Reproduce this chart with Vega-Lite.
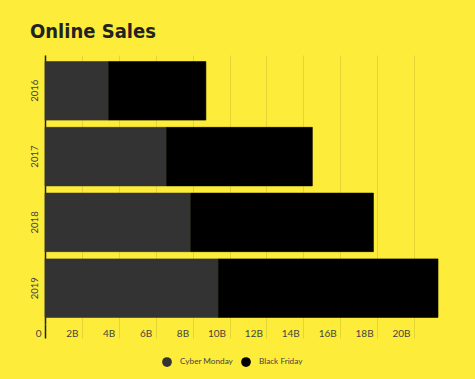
{
  "$schema": "https://vega.github.io/schema/vega-lite/v6.json",
  "width": 393,
  "height": 269,
  "autosize": "none",
  "padding": {"left": 45, "top": 55, "right": 37, "bottom": 55},
  "background": "#fdec3a",
  "title": {
    "text": "Online Sales",
    "anchor": "start",
    "frame": "group",
    "font": "DejaVu Sans Condensed",
    "fontSize": 20,
    "fontWeight": "bold",
    "color": "#222222",
    "dx": -15,
    "offset": 13
  },
  "config": {
    "view": {"stroke": null},
    "font": "Lato"
  },
  "data": {
    "values": [
      {"year": "2016", "type": "Cyber Monday", "ord": 1, "value": 3.45},
      {"year": "2016", "type": "Black Friday", "ord": 2, "value": 5.27},
      {"year": "2017", "type": "Cyber Monday", "ord": 1, "value": 6.59},
      {"year": "2017", "type": "Black Friday", "ord": 2, "value": 7.9},
      {"year": "2018", "type": "Cyber Monday", "ord": 1, "value": 7.9},
      {"year": "2018", "type": "Black Friday", "ord": 2, "value": 9.9},
      {"year": "2019", "type": "Cyber Monday", "ord": 1, "value": 9.4},
      {"year": "2019", "type": "Black Friday", "ord": 2, "value": 11.9}
    ]
  },
  "mark": {"type": "bar", "strokeWidth": 0.6},
  "encoding": {
    "y": {
      "field": "year",
      "type": "nominal",
      "sort": "ascending",
      "scale": {"paddingInner": 0.11, "paddingOuter": 0.1},
      "axis": {
        "title": null,
        "ticks": false,
        "domainColor": "#222222",
        "domainWidth": 1.5,
        "labelAngle": 270,
        "labelAlign": "center",
        "labelBaseline": "bottom",
        "labelPadding": 6,
        "labelFontSize": 9.5,
        "labelColor": "#444444",
        "grid": false
      }
    },
    "x": {
      "field": "value",
      "type": "quantitative",
      "stack": "zero",
      "scale": {"domain": [0, 21.3], "nice": false},
      "axis": {
        "title": null,
        "values": [0, 2, 4, 6, 8, 10, 12, 14, 16, 18, 20],
        "labelExpr": "datum.value === 0 ? '0' : datum.value + 'B'",
        "grid": true,
        "gridColor": "#e4d434",
        "gridWidth": 1,
        "domain": false,
        "tickSize": 14,
        "tickColor": {"condition": {"test": "datum.value === 0", "value": "#222222"}, "value": "#e4d434"},
        "tickWidth": {"condition": {"test": "datum.value === 0", "value": 1.5}, "value": 1},
        "labelAlign": "right",
        "labelOffset": -4,
        "labelBaseline": "middle",
        "labelPadding": -5,
        "labelFontSize": 10,
        "labelColor": "#444444",
        "labelFlush": false
      }
    },
    "color": {
      "field": "type",
      "type": "nominal",
      "scale": {"domain": ["Cyber Monday", "Black Friday"], "range": ["#333333", "#000000"]},
      "legend": {
        "title": null,
        "orient": "none",
        "direction": "horizontal",
        "legendX": 117,
        "legendY": 302,
        "symbolType": "circle",
        "symbolSize": 95,
        "symbolStrokeWidth": 0,
        "labelFont": "Lato",
        "labelFontSize": 8.2,
        "labelColor": "#444444",
        "labelOffset": 8,
        "columnPadding": 8
      }
    },
    "stroke": {
      "field": "type",
      "type": "nominal",
      "scale": {"domain": ["Cyber Monday", "Black Friday"], "range": ["#333333", "#000000"]},
      "legend": null
    },
    "order": {"field": "ord", "type": "quantitative"}
  }
}
